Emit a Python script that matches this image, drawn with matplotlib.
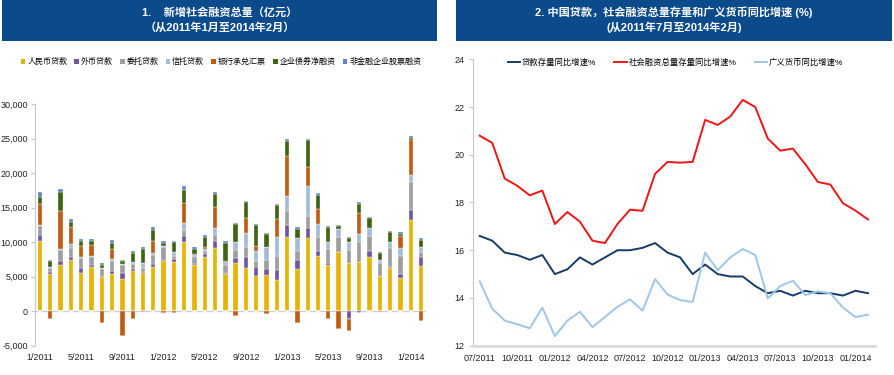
import matplotlib
matplotlib.use("Agg")
import matplotlib.pyplot as plt
import numpy as np
from matplotlib.patches import Rectangle, Patch
from matplotlib.lines import Line2D

plt.rcParams['font.family'] = ['Liberation Sans', 'Noto Sans CJK SC', 'DejaVu Sans']

# ---------------- Data: left chart (亿元) ----------------
months = ["1/2011", "2/2011", "3/2011", "4/2011", "5/2011", "6/2011", "7/2011", "8/2011",
          "9/2011", "10/2011", "11/2011", "12/2011", "1/2012", "2/2012", "3/2012", "4/2012",
          "5/2012", "6/2012", "7/2012", "8/2012", "9/2012", "10/2012", "11/2012", "12/2012",
          "1/2013", "2/2013", "3/2013", "4/2013", "5/2013", "6/2013", "7/2013", "8/2013",
          "9/2013", "10/2013", "11/2013", "12/2013", "1/2014", "2/2014"]
series_names = ["人民币贷款", "外币贷款", "委托贷款", "信托贷款", "银行承兑汇票", "企业债券净融资", "非金融企业股票融资"]
rmb_loans = [10240, 5360, 6760, 7440, 5510, 6380, 4980, 5460, 4690, 5890, 5600, 6430,
             7340, 7100, 10100, 6760, 7920, 9180, 5410, 7000, 6230, 5070, 5270, 4540,
             10770, 6180, 10680, 7970, 6710, 8650, 7000, 7150, 7920, 5070, 6230, 4830, 13240, 6520]
fx_loans = [870, 340, 580, 480, 820, 290, 100, 340, 910, 290, 100, 430,
            50, 480, 870, 100, 340, 1060, 100, 730, 1690, 1310, 910, 1500,
            1690, 1210, 1450, 770, 340, 0, -1060, -200, 820, 0, 150, 580, 1490, 1350]
entrusted = [1305, 580, 1550, 1310, 1350, 1160, 1100, 1540, 1110, 680, 530, 1260,
             1980, 390, 870, 1060, 440, 770, 1250, 1110, 1450, 870, 1310, 2030,
             2030, 1400, 1690, 1980, 1980, 2130, 1940, 2850, 2230, 1930, 2750, 2610, 3970, 680]
trust = [150, 145, 100, 580, 190, 140, 100, 200, 150, 240, 770, 380,
         150, 580, 960, 200, 380, 1020, 440, 1210, 2030, 1490, 1790, 2650,
         2180, 1790, 4390, 1940, 970, 1210, 1110, 1260, 1110, 390, 970, 1210, 1060, 770]
bank_accept = [2990, -1110, 5550, 2410, 1600, 1690, -1690, 1540, -3530, -1110, -150, 1740,
               -250, -200, 2900, 190, 240, 3090, 100, -720, 2170, 730, -350, 2660,
               5790, -1750, 2710, 2170, -1050, -2560, -1790, 2990, 0, -150, 0, 1640, 5020, -1430]
corp_bonds = [965, 825, 2710, 730, 670, 480, 490, 870, 440, 1400, 2080, 1500,
              380, 1500, 1930, 770, 1500, 1930, 2550, 2560, 2320, 2990, 1880, 2030,
              2180, 1400, 3860, 2080, 2220, 350, 580, 1350, 1450, 1060, 1400, 340, 290, 1070]
equity = [780, 240, 480, 380, 390, 290, 190, 340, 190, 240, 240, 430,
          240, 190, 580, 240, 190, 290, 290, 190, 150, 150, 140, 190,
          340, 240, 200, 240, 200, 100, 140, 200, 190, 200, 190, 240, 390, 190]
bar_colors = ["#E5B400", "#7056A3", "#9E9E9E", "#A3BBDB", "#C25B12", "#3F6413", "#5B84BD"]
left_ticks = ["1/2011", "5/2011", "9/2011", "1/2012", "5/2012", "9/2012", "1/2013", "5/2013", "9/2013", "1/2014"]

# ---------------- Data: right chart (%) ----------------
line_months = ["07/2011", "08/2011", "09/2011", "10/2011", "11/2011", "12/2011",
               "01/2012", "02/2012", "03/2012", "04/2012", "05/2012", "06/2012",
               "07/2012", "08/2012", "09/2012", "10/2012", "11/2012", "12/2012",
               "01/2013", "02/2013", "03/2013", "04/2013", "05/2013", "06/2013",
               "07/2013", "08/2013", "09/2013", "10/2013", "11/2013", "12/2013",
               "01/2014", "02/2014"]
loan_growth = [16.6, 16.4, 15.9, 15.8, 15.6, 15.8, 15.0, 15.2, 15.7, 15.4, 15.7, 16.0,
               16.0, 16.1, 16.3, 15.9, 15.7, 15.0, 15.4, 15.0, 14.9, 14.9, 14.5, 14.2,
               14.3, 14.1, 14.3, 14.2, 14.2, 14.1, 14.3, 14.2]
tsf_growth = [20.8, 20.5, 19.0, 18.7, 18.3, 18.5, 17.1, 17.6, 17.2, 16.4, 16.3, 17.1,
              17.7, 17.65, 19.2, 19.7, 19.67, 19.7, 21.46, 21.25, 21.6, 22.3, 22.0, 20.68,
              20.17, 20.26, 19.6, 18.86, 18.75, 17.97, 17.66, 17.29]
m2_growth = [14.7, 13.55, 13.05, 12.9, 12.73, 13.6, 12.4, 13.05, 13.42, 12.78, 13.2, 13.63,
             13.94, 13.47, 14.79, 14.14, 13.91, 13.83, 15.9, 15.16, 15.7, 16.05, 15.8, 13.98,
             14.5, 14.72, 14.12, 14.28, 14.19, 13.6, 13.2, 13.3]
line_names = ["贷款存量同比增速%", "社会融资总量存量同比增速%", "广义货币同比增速%"]
line_colors = ["#173B66", "#F01414", "#9DC6EA"]
right_ticks = ["07/2011", "10/2011", "01/2012", "04/2012", "07/2012", "10/2012",
               "01/2013", "04/2013", "07/2013", "10/2013", "01/2014"]

W, H = 894, 375
fig = plt.figure(figsize=(W / 100, H / 100), dpi=100)

def fx(x):
    return x / W

def fy(y):
    return 1 - y / H

banner = "#0B4A8B"
fig.patches.append(Rectangle((fx(2), fy(41)), fx(435), 41 / H, transform=fig.transFigure,
                             facecolor=banner, edgecolor="none", zorder=0))
fig.patches.append(Rectangle((fx(456), fy(41)), fx(436), 41 / H, transform=fig.transFigure,
                             facecolor=banner, edgecolor="none", zorder=0))
tkw = dict(color="white", fontweight="bold", fontsize=8, ha="center", va="center")
fig.text(fx(219.5), fy(12.5), "1.    新增社会融资总量（亿元）", **tkw)
fig.text(fx(219.5), fy(27.5), "（从2011年1月至2014年2月）", **tkw)
fig.text(fx(674), fy(12.5), "2. 中国贷款，社会融资总量存量和广义货币同比增速 (%)", **tkw)
fig.text(fx(674), fy(27.5), "(从2011年7月至2014年2月)", **tkw)

# ---------------- Left axes ----------------
axL = fig.add_axes([fx(34.85), fy(345.8), fx(426.15 - 34.85), (345.8 - 104.3) / H])
data = [rmb_loans, fx_loans, entrusted, trust, bank_accept, corp_bonds, equity]
x = np.arange(len(months))
pos_bottom = np.zeros(len(months))
neg_bottom = np.zeros(len(months))
for vals, col, name in zip(data, bar_colors, series_names):
    v = np.array(vals, dtype=float)
    pos = np.where(v > 0, v, 0)
    neg = np.where(v < 0, v, 0)
    axL.bar(x, pos, 0.42, bottom=pos_bottom, color=col, edgecolor="white", linewidth=0.25, zorder=3)
    axL.bar(x, neg, 0.42, bottom=neg_bottom, color=col, edgecolor="white", linewidth=0.25, zorder=3)
    pos_bottom += pos
    neg_bottom += neg
axL.set_xlim(-0.5, len(months) - 0.5)
axL.set_ylim(-5000, 30000)
axL.set_yticks(np.arange(-5000, 30001, 5000))
axL.set_yticklabels([f"{v:,}" for v in range(-5000, 30001, 5000)])
axL.axhline(0, color="#D0D0D0", lw=1.0, zorder=2)
tick_idx = [months.index(t) for t in left_ticks]
axL.set_xticks(tick_idx)
axL.set_xticklabels(left_ticks)
for s in ["top", "right", "bottom"]:
    axL.spines[s].set_visible(False)
axL.spines["left"].set_color("#C8C8C8")
axL.tick_params(axis="y", labelsize=6.5, colors="#C8C8C8", labelcolor="#222222", length=3, width=0.8, pad=2)
axL.tick_params(axis="x", labelsize=6.5, labelcolor="#222222", length=0, pad=5)
axL.set_facecolor("none")

handles = [Patch(facecolor=c, edgecolor="none") for c in bar_colors]
fig.legend(handles, series_names, loc="center", bbox_to_anchor=(fx(221), fy(62)), ncol=7,
           frameon=False, fontsize=5.8, handlelength=0.55, handleheight=0.55,
           handletextpad=0.25, columnspacing=0.9, borderpad=0)

# ---------------- Right axes ----------------
axR = fig.add_axes([fx(473), fy(345.7), fx(875 - 473), (345.7 - 59.3) / H])
xi = np.arange(len(line_months))
for vals, col in zip([loan_growth, tsf_growth, m2_growth], line_colors):
    axR.plot(xi, vals, color=col, lw=1.4, zorder=3)
axR.set_xlim(-0.535, 31.56)
axR.set_ylim(12, 24)
axR.set_yticks(np.arange(12, 25, 2))
axR.set_xticks([line_months.index(t) for t in right_ticks])
axR.set_xticklabels(right_ticks)
for s in ["top", "right"]:
    axR.spines[s].set_visible(False)
axR.spines["left"].set_color("#C8C8C8")
axR.spines["bottom"].set_color("#D9D9D9")
axR.spines["bottom"].set_linewidth(2.0)
axR.tick_params(axis="y", labelsize=6.5, colors="#C8C8C8", labelcolor="#222222", length=3, width=0.8, pad=3)
axR.tick_params(axis="x", labelsize=6.5, labelcolor="#222222", length=0, pad=6)
axR.set_facecolor("none")

lh = [Line2D([0], [0], color=c, lw=1.4) for c in line_colors]
fig.legend(lh, line_names, loc="center", bbox_to_anchor=(fx(675.5), fy(63)), ncol=3,
           frameon=False, fontsize=6, handlelength=1.5, handletextpad=0.2,
           columnspacing=2.2, borderpad=0)

fig.savefig("out.png", dpi=100)
